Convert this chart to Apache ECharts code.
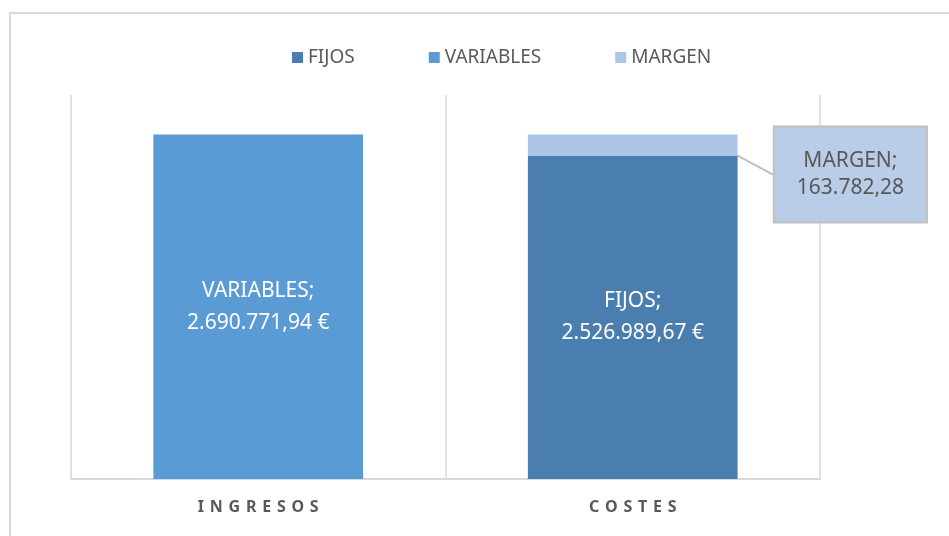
<!DOCTYPE html>
<html>
<head>
<meta charset="utf-8">
<script src="https://cdn.jsdelivr.net/npm/echarts@6/dist/echarts.min.js"></script>
<style>
html, body { margin: 0; padding: 0; background: #fff; }
#chart { width: 949px; height: 536px; }
</style>
</head>
<body>
<div id="chart"></div>
<script>
var categories = ['INGRESOS', 'COSTES'];
var fijos = [null, 2526989.67];
var variables = [2690771.94, null];
var margen = [null, 163782.28];

function fmt(v) {
    var parts = v.toFixed(2).split('.');
    return parts[0].replace(/\B(?=(\d{3})+(?!\d))/g, '.') + ',' + parts[1];
}

var myChart = echarts.init(document.getElementById('chart'));

var font = '"Noto Sans", "Open Sans", sans-serif';

option = {
    backgroundColor: '#fff',
    color: ['#4a7eae', '#5b9bd5', '#adc5e6'],
    graphic: [{
        type: 'rect',
        shape: { x: 10, y: 13, width: 1000, height: 600 },
        style: { fill: 'none', stroke: '#d9d9d9', lineWidth: 2 },
        silent: true
    }],
    legend: {
        top: 43,
        left: 287,
        itemWidth: 11,
        itemHeight: 11,
        itemGap: 74,
        icon: 'rect',
        textStyle: {
            fontFamily: font,
            fontSize: 19,
            color: '#595959'
        },
        data: ['FIJOS', 'VARIABLES', 'MARGEN']
    },
    grid: {
        left: 71,
        right: 129,
        top: 95,
        bottom: 57
    },
    xAxis: {
        type: 'category',
        data: categories,
        axisTick: { show: false },
        axisLine: {
            lineStyle: { color: '#d9d9d9', width: 2 }
        },
        splitLine: {
            show: true,
            lineStyle: { color: '#d9d9d9', width: 1.5 }
        },
        axisLabel: {
            margin: 20,
            fontFamily: font,
            fontSize: 16,
            fontWeight: 'bold',
            color: '#595959',
            formatter: function (v) {
                return v.split('').join(' \u200A');
            }
        }
    },
    yAxis: {
        type: 'value',
        min: 0,
        max: 3000000,
        show: false,
        splitLine: { show: false }
    },
    series: [{
        name: 'FIJOS',
        type: 'bar',
        stack: 'total',
        barCategoryGap: '44%',
        label: {
            show: true,
            position: 'inside',
            fontFamily: font,
            fontSize: 21,
            lineHeight: 32,
            color: '#fff',
            formatter: function (p) {
                return 'FIJOS;\n' + fmt(p.value) + ' €';
            }
        },
        data: fijos
    }, {
        name: 'VARIABLES',
        type: 'bar',
        stack: 'total',
        barCategoryGap: '44%',
        label: {
            show: true,
            position: 'inside',
            fontFamily: font,
            fontSize: 21,
            lineHeight: 32,
            padding: [6, 0, 0, 0],
            color: '#fff',
            formatter: function (p) {
                return 'VARIABLES;\n' + fmt(p.value) + ' €';
            }
        },
        data: variables
    }, {
        name: 'MARGEN',
        type: 'bar',
        stack: 'total',
        barCategoryGap: '44%',
        label: {
            show: true,
            position: [247, -7],
            align: 'left',
            verticalAlign: 'top',
            backgroundColor: '#b9cde8',
            borderColor: '#bfbfbf',
            borderWidth: 2,
            padding: [20, 12, 20, 12],
            formatter: function (p) {
                return '{t|MARGEN;}\n{t|' + fmt(p.value) + '}';
            },
            rich: {
                t: {
                    width: 127,
                    align: 'center',
                    fontFamily: font,
                    fontSize: 21,
                    lineHeight: 27,
                    color: '#595959'
                }
            }
        },
        labelLine: {
            show: true,
            lineStyle: { color: '#bfbfbf', width: 2 }
        },
        data: margen
    }]
};
myChart.setOption(option);
</script>
</body>
</html>
